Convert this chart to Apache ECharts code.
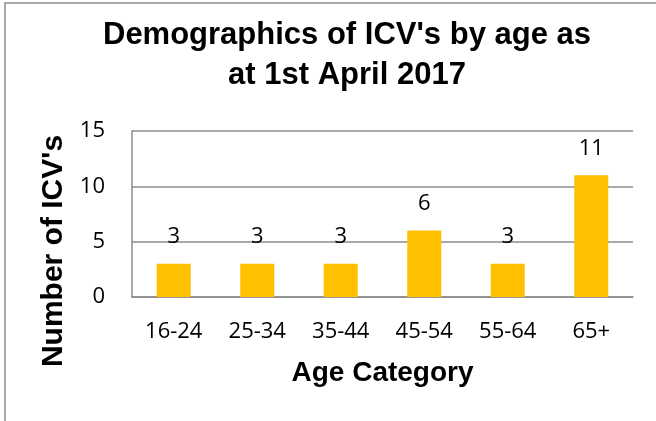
<!DOCTYPE html>
<html>
<head>
<meta charset="utf-8">
<script src="https://cdn.jsdelivr.net/npm/echarts@6/dist/echarts.min.js"></script>
<style>
  html, body { margin: 0; padding: 0; background: #fff; }
  #chart { width: 656px; height: 421px; }
</style>
</head>
<body>
<div id="chart"></div>
<script>
// data
const categories = ["16-24", "25-34", "35-44", "45-54", "55-64", "65+"];
const counts = [3, 3, 3, 6, 3, 11];
const yTicks = [0, 5, 10, 15];

const chart = echarts.init(document.getElementById("chart"));

let option = {
  backgroundColor: "#fff",
  animation: false,
  // outer chart frame (runs off the right and bottom edges)
  graphic: [
    {
      type: "rect",
      shape: { x: 5, y: 3, width: 700, height: 500 },
      style: { fill: "none", stroke: "#8c8c8c", lineWidth: 1.5 },
      silent: true,
    },
  ],
  title: {
    text: "Demographics of ICV's by age as\nat 1st April 2017",
    left: 342,
    textAlign: "center",
    top: 10,
    textStyle: {
      fontFamily: "Liberation Sans",
      fontWeight: "bold",
      fontSize: 31,
      lineHeight: 40,
      color: "#000",
    },
  },
  grid: { left: 132, right: 23, top: 131, bottom: 124 },
  xAxis: {
    type: "category",
    data: categories,
    name: "Age Category",
    nameLocation: "middle",
    nameGap: 62,
    nameTextStyle: {
      fontFamily: "Liberation Sans",
      fontWeight: "bold",
      fontSize: 28,
      color: "#000",
    },
    axisLine: { lineStyle: { color: "#8c8c8c", width: 1.5 } },
    axisTick: { show: false },
    axisLabel: {
      fontFamily: "Open Sans",
      fontSize: 22,
      color: "#000",
      margin: 24,
    },
  },
  yAxis: {
    type: "value",
    min: yTicks[0],
    max: yTicks[yTicks.length - 1],
    interval: yTicks[1] - yTicks[0],
    name: "Number of ICV's",
    nameLocation: "middle",
    nameGap: 60,
    nameTextStyle: {
      fontFamily: "Liberation Sans",
      fontWeight: "bold",
      fontSize: 30,
      color: "#000",
      // pushes the rotated title down the axis, as in the reference
      padding: [0, 74, 0, 0],
    },
    axisLine: { show: true, lineStyle: { color: "#8c8c8c", width: 1.5 } },
    axisTick: { show: false },
    splitLine: { lineStyle: { color: "#8c8c8c", width: 1.5 } },
    axisLabel: {
      fontFamily: "Open Sans",
      fontSize: 22,
      color: "#000",
      margin: 27,
    },
  },
  series: [
    {
      type: "bar",
      data: counts,
      barWidth: 34,
      itemStyle: { color: "#FFC000" },
      label: {
        show: true,
        position: "top",
        distance: 16,
        fontFamily: "Open Sans",
        fontSize: 22,
        color: "#000",
      },
    },
  ],
};

chart.setOption(option);
</script>
</body>
</html>
